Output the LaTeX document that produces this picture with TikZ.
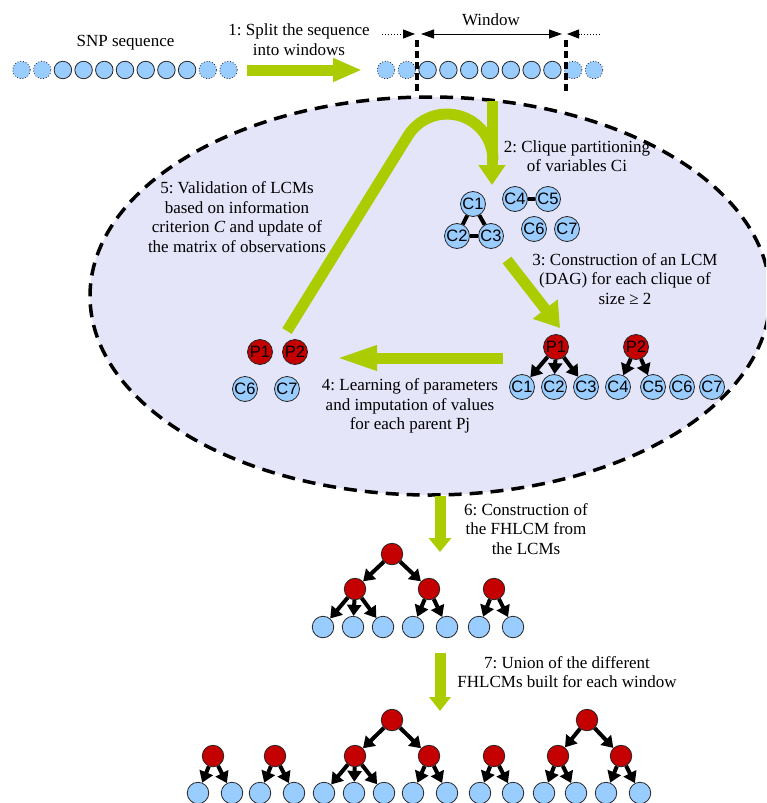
\documentclass[tikz,border=0pt]{standalone}
\usepackage{fontspec}
\setmainfont{Liberation Serif}
\newfontfamily\nodefont{Liberation Sans}
\usetikzlibrary{arrows.meta}
\definecolor{grn}{RGB}{170,204,0}
\definecolor{lav}{RGB}{229,229,250}
\definecolor{redn}{RGB}{196,0,0}
\definecolor{bluen}{RGB}{153,204,255}
\frenchspacing
\begin{document}
\begin{tikzpicture}[x=1pt,y=-1pt,
  lbl/.style={font=\fontsize{17}{19.5}\selectfont, align=center, inner sep=0pt},
  cnode/.style={circle, draw=black!85, line width=0.8pt, fill=bluen, minimum size=25pt, inner sep=0pt, font=\nodefont\fontsize{16.5}{16.5}\selectfont},
  pnode/.style={cnode, fill=redn},
  snp/.style={circle, draw=black!85, line width=0.8pt, fill=bluen, minimum size=17.5pt, inner sep=0pt},
  snpd/.style={snp, dotted},
  tc/.style={circle, draw=black!85, line width=0.8pt, fill=bluen, minimum size=21.5pt, inner sep=0pt},
  tp/.style={tc, fill=redn},
  cedge/.style={line width=4pt},
  darr/.style={line width=4pt, -{Triangle[width=14pt,length=11pt]}},
  garr/.style={grn, line width=11pt},
]
\useasboundingbox (0,0) rectangle (766,803);
\clip (0,0) rectangle (766,803);

% ellipse
\draw[fill=lav, line width=3.5pt, dash pattern=on 13pt off 8pt] (430,296) ellipse [x radius=340, y radius=199];

% top sequences
\node[lbl] (snplbl) at (125.5,43) {SNP sequence};
\foreach \i in {0,...,10}{
  \pgfmathsetmacro{\xx}{21.5+20.7*\i}
  \ifnum\i<2 \node[snpd] (sa\i) at (\xx,70) {};
  \else\ifnum\i>8 \node[snpd] (sa\i) at (\xx,70) {};
  \else \node[snp] (sa\i) at (\xx,70) {};
  \fi\fi
}
\foreach \i in {0,...,10}{
  \pgfmathsetmacro{\xx}{386+20.8*\i}
  \ifnum\i<2 \node[snpd] (sb\i) at (\xx,70) {};
  \else\ifnum\i>8 \node[snpd] (sb\i) at (\xx,70) {};
  \else \node[snp] (sb\i) at (\xx,70) {};
  \fi\fi
}
\draw[line width=4pt, dash pattern=on 7pt off 4pt] (417,40) -- (417,93);
\draw[line width=4pt, dash pattern=on 7pt off 4pt] (566,40) -- (566,93);

% window arrows
\node[lbl] (winlbl) at (491,20) {Window};
\coordinate (wa0) at (382,34); \coordinate (wa1) at (415,34);
\coordinate (wb0) at (421,34); \coordinate (wb1) at (562,34);
\coordinate (wc0) at (600,34); \coordinate (wc1) at (567,34);
\draw[line width=1pt, dotted, -{Triangle[width=9pt,length=12pt]}] (wa0) -- (wa1);
\draw[line width=1pt, {Triangle[width=9pt,length=13pt]}-{Triangle[width=9pt,length=13pt]}] (wb0) -- (wb1);
\draw[line width=1pt, dotted, -{Triangle[width=9pt,length=12pt]}] (wc0) -- (wc1);

% step 1
\node[lbl] (t1) at (299,39.5) {1: Split the sequence\\into windows};
\coordinate (g1a) at (247,70); \coordinate (g1b) at (362,70);
\draw[garr, -{Triangle[width=22pt,length=29pt]}] (g1a) -- (g1b);

% step 5 curve and step 2
\coordinate (g5a) at (287,331); \coordinate (g5b) at (407.9,135.8);
\draw[garr] (g5a) -- (g5b) arc[start angle=211.8, end angle=360, radius=46];
\coordinate (g2a) at (492,101); \coordinate (g2b) at (492,185);
\draw[garr, -{Triangle[width=26pt,length=20pt]}] (g2a) -- (g2b);

\node[lbl] (t2) at (577,156) {2: Clique partitioning\\of variables Ci};
\node[lbl] (t5) at (237,217) {5: Validation of LCMs\\based on information\\criterion \textit{C} and update of\\the matrix of observations};

% cliques
\node[cnode] (ka1) at (473,204) {C1};
\node[cnode] (ka2) at (457,236) {C2};
\node[cnode] (ka3) at (491,236) {C3};
\node[cnode] (ka4) at (515,199) {C4};
\node[cnode] (ka5) at (548,199) {C5};
\node[cnode] (ka6) at (534,229) {C6};
\node[cnode] (ka7) at (567,229) {C7};
\draw[cedge] (ka1) -- (ka2);
\draw[cedge] (ka1) -- (ka3);
\draw[cedge] (ka2) -- (ka3);
\draw[cedge] (ka4) -- (ka5);

% step 3
\node[lbl] (t3) at (625,279) {3: Construction of an LCM\\(DAG) for each clique of\\size ≥ 2};
\coordinate (g3a) at (507,260); \coordinate (g3b) at (560,328);
\draw[garr, -{Triangle[width=30pt,length=24pt]}] (g3a) -- (g3b);

% LCMs
\node[pnode] (lp1) at (556,347) {P1};
\node[pnode] (lp2) at (636,347) {P2};
\node[cnode] (lc1) at (522,387) {C1};
\node[cnode] (lc2) at (554,387) {C2};
\node[cnode] (lc3) at (586,387) {C3};
\node[cnode] (lc4) at (618,387) {C4};
\node[cnode] (lc5) at (653,387) {C5};
\node[cnode] (lc6) at (682,387) {C6};
\node[cnode] (lc7) at (712,387) {C7};
\draw[darr] (lp1) -- (lc1);
\draw[darr] (lp1) -- (lc2);
\draw[darr] (lp1) -- (lc3);
\draw[darr] (lp2) -- (lc4);
\draw[darr] (lp2) -- (lc5);

% step 4
\coordinate (g4a) at (503,358); \coordinate (g4b) at (334,358);
\draw[garr, -{Triangle[width=22pt,length=43pt]}] (g4a) -- (g4b);
\node[lbl] (t4) at (410,406) {4: Learning of parameters\\and imputation of values\\for each parent Pj};

\node[pnode] (mp1) at (260,352) {P1};
\node[pnode] (mp2) at (295,352) {P2};
\node[cnode] (mc6) at (245,389) {C6};
\node[cnode] (mc7) at (287,389) {C7};

% step 6
\coordinate (g6a) at (440,496); \coordinate (g6b) at (440,552);
\draw[garr, -{Triangle[width=22pt,length=14pt]}] (g6a) -- (g6b);
\node[lbl] (t6) at (526,529) {6: Construction of\\the FHLCM from\\the LCMs};

% FHLCM
\node[tp] (f0) at (392,554) {};
\node[tp] (f1) at (355,589) {};
\node[tp] (f2) at (429,589) {};
\node[tp] (f3) at (494,589) {};
\foreach \n/\xx in {1/323,2/353,3/383,4/413,5/447,6/479,7/513}{
  \node[tc] (fl\n) at (\xx,627) {};
}
\draw[darr] (f0) -- (f1);
\draw[darr] (f0) -- (f2);
\draw[darr] (f1) -- (fl1);
\draw[darr] (f1) -- (fl2);
\draw[darr] (f1) -- (fl3);
\draw[darr] (f2) -- (fl4);
\draw[darr] (f2) -- (fl5);
\draw[darr] (f3) -- (fl6);
\draw[darr] (f3) -- (fl7);

% step 7
\coordinate (g7a) at (440,653); \coordinate (g7b) at (440,711);
\draw[garr, -{Triangle[width=21pt,length=14pt]}] (g7a) -- (g7b);
\node[lbl] (t7) at (567,672) {7: Union of the different\\FHLCMs built for each window};

% final forest
\node[tp] (ba) at (213,756) {};
\node[tp] (bb) at (275,756) {};
\node[tp] (bc) at (392,720) {};
\node[tp] (bc1) at (355,756) {};
\node[tp] (bc2) at (429,756) {};
\node[tp] (bd) at (494,756) {};
\node[tp] (be) at (587,720) {};
\node[tp] (be1) at (558,756) {};
\node[tp] (be2) at (621,756) {};
\foreach \n/\xx in {1/198,2/232,3/260,4/294,5/324,6/354,7/384,8/413,9/447,10/480,11/513,12/544,13/576,14/606,15/640}{
  \node[tc] (bl\n) at (\xx,793) {};
}
\draw[darr] (ba) -- (bl1);
\draw[darr] (ba) -- (bl2);
\draw[darr] (bb) -- (bl3);
\draw[darr] (bb) -- (bl4);
\draw[darr] (bc) -- (bc1);
\draw[darr] (bc) -- (bc2);
\draw[darr] (bc1) -- (bl5);
\draw[darr] (bc1) -- (bl6);
\draw[darr] (bc1) -- (bl7);
\draw[darr] (bc2) -- (bl8);
\draw[darr] (bc2) -- (bl9);
\draw[darr] (bd) -- (bl10);
\draw[darr] (bd) -- (bl11);
\draw[darr] (be) -- (be1);
\draw[darr] (be) -- (be2);
\draw[darr] (be1) -- (bl12);
\draw[darr] (be1) -- (bl13);
\draw[darr] (be2) -- (bl14);
\draw[darr] (be2) -- (bl15);
\end{tikzpicture}
\end{document}
